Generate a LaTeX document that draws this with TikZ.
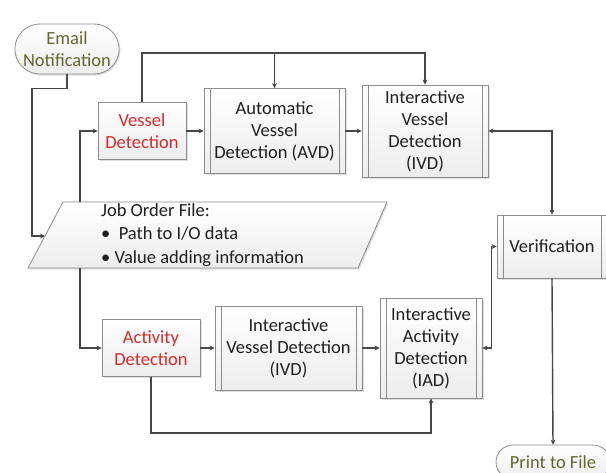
\documentclass[tikz,border=0pt]{standalone}
\usepackage{fontspec}
\setmainfont{Carlito}
\usetikzlibrary{calc, shapes.misc, shadows, arrows.meta, positioning}

\definecolor{boxline}{HTML}{8C8C8C}
\definecolor{linkgray}{HTML}{474747}
\definecolor{alertred}{HTML}{D42B2B}
\definecolor{termolive}{HTML}{66662E}
\definecolor{txtdark}{HTML}{1F1F1F}

\tikzset{
  box/.style={draw=boxline, line width=0.8pt, top color=white, bottom color=gray!14,
    drop shadow={opacity=0.25, shadow xshift=1.5pt, shadow yshift=-1.5pt},
    text=txtdark, align=center, inner sep=1pt,
    font=\fontsize{18.5}{22}\selectfont},
  procbox/.style={box,
    path picture={
      \draw[boxline, line width=0.8pt] ([xshift=6pt]path picture bounding box.north west)
        -- ([xshift=6pt]path picture bounding box.south west);
      \draw[boxline, line width=0.8pt] ([xshift=-6pt]path picture bounding box.north east)
        -- ([xshift=-6pt]path picture bounding box.south east);}},
  termbox/.style={box, rounded rectangle, text=termolive},
  link/.style={draw=linkgray, line width=1.4pt, -{Stealth[length=5pt,width=5pt]}},
  dlink/.style={link, {Stealth[length=5pt,width=5pt]}-{Stealth[length=5pt,width=5pt]}}
}

\begin{document}
\begin{tikzpicture}[x=1pt, y=-1pt]
  \useasboundingbox (0,0) rectangle (606,472);

  % terminators
  \node[termbox, minimum width=98pt, minimum height=50pt] (email) at (67,49) {Email\\Notification};
  \node[termbox, minimum width=116pt, minimum height=34pt] (print) at (553,462) {Print to File};

  % vessel row
  \node[box, text=alertred, minimum width=88pt, minimum height=57pt] (vd) at (142,131) {Vessel\\Detection};
  \node[procbox, minimum width=141pt, minimum height=85pt] (avd) at (274.5,131) {Automatic\\Vessel\\Detection (AVD)};
  \node[procbox, minimum width=126pt, minimum height=92pt] (ivda) at (425,131) {Interactive\\Vessel\\Detection\\(IVD)};

  % activity row
  \node[box, text=alertred, minimum width=98pt, minimum height=57pt] (ad) at (151,348) {Activity\\Detection};
  \node[procbox, minimum width=147pt, minimum height=84pt] (ivdb) at (288.5,348) {Interactive\\Vessel Detection\\(IVD)};
  \node[procbox, minimum width=102pt, minimum height=100pt] (iad) at (431,348) {Interactive\\Activity\\Detection\\(IAD)};

  \node[procbox, minimum width=110pt, minimum height=63pt] (ver) at (552,246.5) {Verification};

  % job order file
  \path (28,268)  coordinate (jobsw)
        (358,268) coordinate (jobse)
        (387,202) coordinate (jobne)
        (63,202)  coordinate (jobnw)
        (45,236)  coordinate (jobin)
        (80,202)  coordinate (jobtop)
        (80,268)  coordinate (jobbot)
        (0,53)    coordinate (topbar);

  \draw[draw=boxline, line width=0.8pt, top color=white, bottom color=gray!14,
        drop shadow={opacity=0.25, shadow xshift=1.5pt, shadow yshift=-1.5pt}]
    (jobsw) -- (jobse) -- (jobne) -- (jobnw) -- cycle;
  \node[anchor=west, align=left, text=txtdark, inner sep=0pt,
        font=\fontsize{18.5}{23.5}\selectfont] (jobtxt) at (101,235)
    {Job Order File:\\\textbullet\ \ Path to I/O data\\\textbullet\ Value adding information};

  % connectors
  \draw[link] (email.south) -- ++(0,14) -| ([xshift=-13pt]jobin) -- (jobin);
  \draw[link] (jobtop) |- (vd.west);
  \draw[link] (jobbot) |- (ad.west);

  \draw[link] (vd) -- (avd);
  \draw[link] (avd) -- (ivda);
  \draw[link] (vd.north) |- (topbar -| ivda.north) -- (ivda.north);
  \draw[link] (topbar -| avd.north) -- (avd.north);

  \draw[link] (ad) -- (ivdb);
  \draw[link] (ivdb.east) -- (iad.west |- ivdb.east);
  \draw[link] (ad.south) -- ++(0,56) -| (iad.south);

  \draw[dlink] (ivda.east) -| (ver.north);
  \draw[dlink] (iad.east) -- ++(9,0) |- (ver.west);
  \draw[link] (ver.south) -- (print.north);

\end{tikzpicture}
\end{document}
